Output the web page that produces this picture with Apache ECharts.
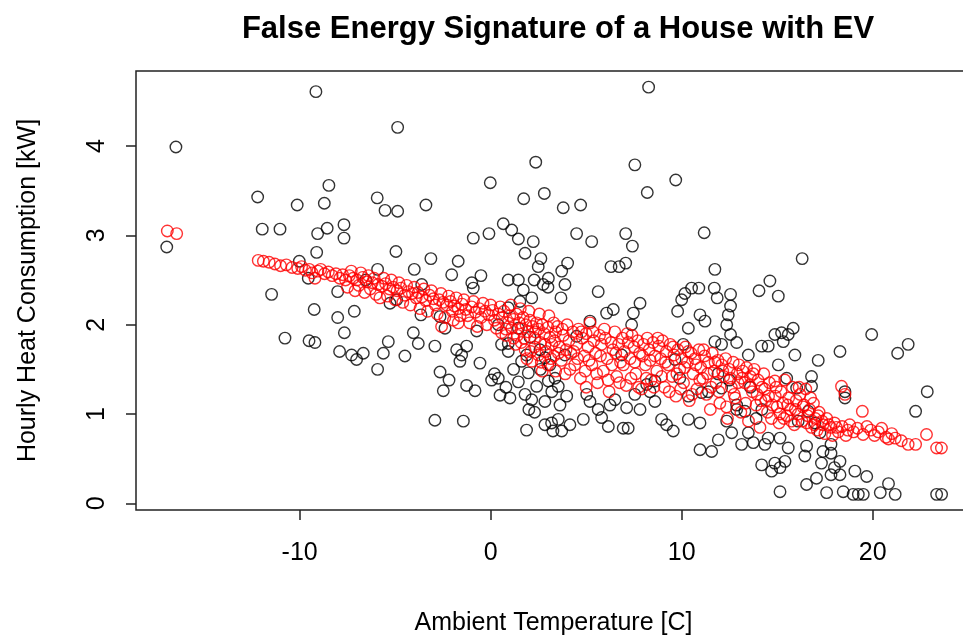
<!DOCTYPE html>
<html>
<head>
<meta charset="utf-8">
<script src="https://cdn.jsdelivr.net/npm/echarts@6/dist/echarts.min.js"></script>
<style>
  html, body { margin: 0; padding: 0; background: #fff; overflow: hidden; }
  #chart { width: 980px; height: 636px; }
</style>
</head>
<body>
<div id="chart"></div>
<script>
// tick positions
const xTicks = [-10, 0, 10, 20];
const yTicks = [0, 1, 2, 3, 4];

// observed hourly consumption (black) [temperature, kW]
const observed = [
  [-16.48, 3.99], [-9.15, 4.61], [-12.2, 3.43], [-10.13, 3.34], [-8.71, 3.36], [-8.47, 3.56],
  [-4.87, 4.21], [-0.02, 3.59], [2.36, 3.82], [2.81, 3.47], [1.73, 3.41], [-5.94, 3.42],
  [-5.53, 3.28], [-4.87, 3.27], [-3.39, 3.34], [8.27, 4.66], [7.55, 3.79], [9.69, 3.62],
  [8.2, 3.48], [3.8, 3.31], [4.71, 3.34],
  [-16.96, 2.87], [-11.96, 3.07], [-11.03, 3.07], [-9.06, 3.02], [-8.56, 3.08], [-7.68, 3.12],
  [-7.68, 2.97], [-9.11, 2.81], [-10.02, 2.71], [-9.55, 2.52], [-11.47, 2.34], [-9.24, 2.17],
  [-8.01, 2.08], [-8.01, 2.37], [-10.77, 1.85], [-9.51, 1.82], [-9.2, 1.80], [-7.91, 1.70], [-7.66, 1.91],
  [0.66, 3.13], [1.10, 3.06], [1.45, 2.96], [2.23, 2.93], [1.80, 2.80], [2.63, 2.74], [2.49, 2.65],
  [3.02, 2.52], [2.75, 2.45], [3.0, 2.42], [2.28, 2.50], [1.45, 2.50], [0.92, 2.50], [1.71, 2.39],
  [1.53, 2.26], [2.15, 2.30], [-0.91, 2.97], [-0.09, 3.02], [-4.96, 2.82], [-3.13, 2.74],
  [-1.70, 2.71], [-5.92, 2.62], [-4.0, 2.62], [-2.04, 2.56], [-0.51, 2.55], [-0.99, 2.47],
  [-0.91, 2.41], [-6.54, 2.50], [-3.61, 2.45], [-5.27, 2.24], [-4.92, 2.28], [-7.14, 2.15],
  [-3.65, 2.11], [-2.65, 2.09], [-2.39, 1.96], [-0.73, 1.93], [-4.05, 1.91], [-3.79, 1.79],
  [-5.36, 1.81], [-2.92, 1.76], [-4.49, 1.65], [-5.62, 1.68], [-6.67, 1.68], [-7.28, 1.66],
  [-7.02, 1.61], [-1.78, 1.72], [-1.52, 1.66], [-1.26, 1.76], [-1.61, 1.59], [-0.56, 1.57],
  [0.92, 1.70], [0.92, 1.79], [0.40, 2.0], [2.06, 1.86], [1.88, 1.66], [2.84, 1.63],
  [0.57, 1.78], [1.62, 1.59], [2.58, 1.72], [3.1, 1.55], [0.92, 2.19], [1.45, 1.96],
  [4.50, 3.02], [5.29, 2.93], [7.07, 3.02], [7.42, 2.88], [11.18, 3.03], [4.03, 2.69],
  [3.72, 2.60], [3.89, 2.45], [3.68, 2.30], [5.63, 2.37], [6.30, 2.65], [6.73, 2.65],
  [7.07, 2.69], [11.74, 2.62], [10.17, 2.35], [10.52, 2.41], [10.9, 2.41], [11.71, 2.41],
  [10.0, 2.28], [11.86, 2.30], [12.56, 2.34], [14.05, 2.38], [9.79, 2.15], [12.56, 2.21],
  [12.44, 2.11], [7.82, 2.24], [7.47, 2.13], [6.07, 2.13], [6.42, 2.17], [10.96, 2.11],
  [11.22, 2.04], [10.35, 1.96], [12.36, 2.0], [12.56, 1.89], [7.38, 2.0], [5.2, 2.04],
  [11.74, 1.81], [12.09, 1.78], [12.88, 1.80], [10.08, 1.78], [13.49, 1.66], [14.19, 1.76],
  [4.50, 1.87], [6.86, 1.66], [9.65, 1.61], [3.89, 1.66],
  [16.31, 2.74], [14.62, 2.49], [15.06, 2.32], [19.95, 1.89], [21.86, 1.78], [21.31, 1.68],
  [18.29, 1.70], [17.15, 1.60], [15.93, 1.66], [15.06, 1.55], [15.23, 1.91], [15.84, 1.96],
  [15.58, 1.89], [14.88, 1.89], [14.53, 1.76], [15.32, 1.81],
  [-5.92, 1.50], [-2.65, 1.47], [-2.18, 1.38], [-2.48, 1.26], [-1.26, 1.32], [-0.82, 1.26],
  [-2.92, 0.93], [-1.43, 0.92], [0.05, 1.38], [0.40, 1.40], [0.49, 1.21], [1.01, 1.18],
  [1.45, 1.36], [1.97, 1.46], [2.41, 1.31], [1.80, 1.22], [2.15, 1.16], [2.84, 1.14],
  [2.0, 1.05], [1.88, 0.82], [2.84, 0.88], [3.19, 0.90], [3.26, 0.81], [3.02, 1.37],
  [3.37, 1.40], [3.54, 1.31], [3.98, 1.20], [3.63, 1.10], [3.54, 0.94], [3.72, 0.81],
  [4.15, 0.88], [4.85, 0.94], [5.03, 1.22], [5.2, 1.14], [5.63, 1.05], [5.81, 0.96],
  [6.25, 1.10], [6.16, 0.86], [6.51, 1.16], [6.94, 0.84], [7.2, 0.84], [7.12, 1.07],
  [7.82, 1.05], [7.55, 1.22], [8.34, 1.25], [8.6, 1.14], [8.95, 0.94], [9.21, 0.88],
  [9.56, 0.81], [8.17, 1.33], [8.6, 1.37], [10.35, 0.94], [10.96, 0.90], [10.96, 0.60],
  [11.57, 0.58], [11.92, 0.71], [12.36, 0.92], [12.62, 0.79], [12.88, 1.05], [13.31, 1.03],
  [13.14, 0.66], [13.49, 0.79], [13.75, 0.68], [14.19, 0.43], [14.36, 0.66], [10.35, 1.20],
  [11.05, 1.24], [11.4, 1.25], [12.09, 1.29], [12.88, 1.10],
  [15.15, 0.13], [16.54, 0.21], [17.59, 0.12], [18.46, 0.13], [18.98, 0.10], [19.25, 0.10],
  [19.51, 0.10], [20.4, 0.12], [20.83, 0.22], [21.18, 0.10], [23.35, 0.10], [23.61, 0.10],
  [22.86, 1.25], [22.25, 1.03], [18.55, 1.25], [18.55, 1.18], [16.8, 1.42], [16.8, 1.31],
  [15.5, 1.40], [17.82, 0.56], [18.0, 0.40], [17.82, 0.32], [18.29, 0.32], [19.07, 0.36],
  [19.69, 0.30], [17.4, 0.58], [17.32, 0.45], [17.06, 0.28], [16.54, 0.64], [16.45, 0.53],
  [15.15, 0.40], [14.88, 0.45], [15.41, 0.47], [14.71, 0.36], [15.58, 0.62], [15.15, 0.73],
  [14.53, 0.73], [16.98, 0.90], [17.24, 0.79], [18.29, 0.47], [17.82, 0.66], [16.1, 0.92],
  [16.63, 1.03], [16.02, 1.29],
  [0.2, 1.45], [0.8, 1.30], [1.2, 1.50], [2.6, 1.50], [3.2, 1.25], [2.3, 1.02],
  [9.9, 1.40], [11.9, 1.45], [12.5, 1.38], [13.6, 1.30], [14.2, 1.05], [13.9, 0.95]
];

// fitted signature (red) [temperature, kW]
const fitted = [
  [-16.93, 3.05], [-16.44, 3.02],
  [-12.17, 2.72], [-11.9, 2.71], [-11.6, 2.70], [-11.3, 2.68], [-11.0, 2.66], [-10.7, 2.67],
  [-10.4, 2.64], [-10.1, 2.63], [-9.9, 2.65], [-9.7, 2.61], [-9.5, 2.62], [-9.35, 2.58],
  [-9.2, 2.52], [-9.05, 2.60], [-8.9, 2.62], [-8.7, 2.57], [-8.5, 2.59], [-8.3, 2.55],
  [-8.1, 2.57], [-7.9, 2.52], [-7.75, 2.56], [-7.6, 2.50],
  [-7.4, 2.55], [-7.2, 2.52], [-7.0, 2.50], [-6.9, 2.44], [-6.7, 2.53], [-6.5, 2.48],
  [-6.3, 2.40], [-6.2, 2.47], [-6.0, 2.34], [-5.9, 2.45], [-5.7, 2.43], [-5.5, 2.46],
  [-5.3, 2.40], [-5.1, 2.42], [-4.9, 2.38], [-4.7, 2.41], [-4.5, 2.33], [-4.3, 2.37],
  [-4.1, 2.35], [-3.9, 2.30], [-3.8, 2.36], [-3.6, 2.31], [-3.4, 2.27], [-3.2, 2.33],
  [-3.0, 2.29], [-2.9, 2.22], [-2.7, 2.28], [-2.5, 2.25], [-2.57, 1.98], [-2.3, 2.22],
  [-2.1, 2.26], [-2.0, 2.15], [-1.9, 2.21], [-1.7, 2.18], [-1.7, 2.02], [-1.5, 2.23],
  [-1.3, 2.17], [-1.2, 2.10], [-1.0, 2.20], [-0.8, 2.14], [-0.6, 2.18], [-0.5, 2.08],
  [-0.3, 2.15], [-0.1, 2.11], [0.1, 2.16], [0.2, 2.05], [0.4, 2.12], [0.57, 1.91],
  [0.6, 2.08], [0.7, 2.15], [0.9, 2.02], [1.0, 2.10], [1.1, 1.96], [1.2, 2.06],
  [1.35, 2.12], [1.4, 1.88], [1.5, 2.02], [1.6, 1.95], [1.7, 2.08], [1.8, 1.72],
  [1.85, 2.00], [1.95, 1.92], [2.05, 2.05], [2.15, 1.59], [2.2, 1.98], [2.3, 1.85],
  [2.4, 2.02], [2.5, 1.95], [2.6, 1.80], [2.7, 2.00], [2.8, 1.90], [2.9, 1.70],
  [3.0, 1.97], [3.1, 1.86], [3.2, 1.78], [3.3, 2.02], [3.4, 1.92],
  [1.9, 1.62], [2.5, 1.66], [3.0, 1.55], [2.7, 1.48], [3.3, 1.65], [2.3, 1.75],
  [1.6, 1.80], [1.2, 1.85], [0.8, 1.95], [3.4, 1.48],
  [-7.5, 2.42], [-7.3, 2.60], [-7.1, 2.38], [-6.8, 2.58], [-6.6, 2.36], [-6.4, 2.55],
  [-6.1, 2.52], [-5.8, 2.30], [-5.6, 2.52], [-5.4, 2.32], [-5.2, 2.50], [-5.0, 2.28],
  [-4.8, 2.47], [-4.6, 2.25], [-4.4, 2.44], [-4.2, 2.22], [-4.0, 2.42], [-3.7, 2.18],
  [-3.5, 2.40], [-3.3, 2.15], [-3.1, 2.38], [-2.8, 2.12], [-2.6, 2.35], [-2.4, 2.08],
  [-2.2, 2.32], [-1.95, 2.05], [-1.8, 2.30], [-1.6, 2.10], [-1.4, 2.28], [-1.1, 2.02],
  [-0.9, 2.26], [-0.7, 1.98], [-0.4, 2.24], [-0.2, 2.00], [0.0, 2.22], [0.3, 1.96],
  [0.5, 2.20], [0.8, 1.88], [1.05, 2.22], [1.3, 1.78], [1.55, 2.18], [1.75, 1.85],
  [2.0, 2.15], [2.1, 1.70], [2.35, 1.92], [2.55, 2.12], [2.65, 1.58], [2.85, 1.78],
  [3.05, 2.10], [3.15, 1.62], [3.35, 1.82],
  [3.5, 1.98], [3.6, 1.75], [3.7, 1.60], [3.8, 1.88], [3.9, 1.45], [4.0, 2.00],
  [4.1, 1.82], [4.2, 1.68], [4.3, 1.92], [4.4, 1.55], [4.5, 1.78], [4.6, 1.95],
  [4.7, 1.40], [4.8, 1.85], [4.9, 1.65], [5.0, 1.90], [5.0, 1.30],
  [5.1, 1.75], [5.2, 2.02], [5.3, 1.55], [5.4, 1.82], [5.5, 1.68], [5.6, 1.35],
  [5.7, 1.88], [5.8, 1.78], [5.9, 1.48], [6.0, 1.85], [6.1, 1.62], [6.2, 1.25],
  [6.3, 1.80], [6.4, 1.72], [6.5, 1.92], [6.6, 1.42], [6.7, 1.78], [6.8, 1.58],
  [6.9, 1.85], [7.0, 1.70], [7.1, 1.32],
  [7.2, 1.80], [7.3, 1.62], [7.4, 1.88], [7.5, 1.75], [7.6, 1.45], [7.7, 1.82],
  [7.8, 1.68], [7.9, 1.28], [8.0, 1.78], [8.1, 1.55], [8.2, 1.85], [8.3, 1.72],
  [8.4, 1.38], [8.5, 1.80], [8.6, 1.65], [8.7, 1.48], [8.8, 1.76], [8.9, 1.62],
  [9.0, 1.82], [9.1, 1.30],
  [9.2, 1.70], [9.3, 1.55], [9.4, 1.78], [9.5, 1.42], [9.6, 1.66], [9.7, 1.20],
  [9.8, 1.72], [9.9, 1.50], [10.0, 1.62], [10.1, 1.35], [10.2, 1.75], [10.3, 1.58],
  [10.4, 1.15], [10.5, 1.68], [10.6, 1.45], [10.7, 1.62], [10.8, 1.28], [10.9, 1.72],
  [11.0, 1.52], [11.1, 1.40],
  [11.2, 1.65], [11.3, 1.22], [11.4, 1.58], [11.5, 1.05], [11.6, 1.68], [11.7, 1.48],
  [11.8, 1.35], [11.9, 1.60], [12.0, 1.12], [12.1, 1.55], [12.2, 1.42], [12.3, 1.62],
  [12.4, 0.95], [12.5, 1.50], [12.6, 1.30], [12.7, 1.58], [12.8, 1.18], [12.9, 1.45],
  [13.0, 1.55], [13.1, 1.02],
  [13.2, 1.48], [13.3, 1.35], [13.4, 1.52], [13.5, 0.92], [13.6, 1.42], [13.7, 1.25],
  [13.8, 1.50], [13.9, 1.10], [14.0, 1.38], [14.1, 0.85], [14.2, 1.30], [14.3, 1.45],
  [14.4, 1.15], [14.5, 1.02], [14.6, 1.35], [14.7, 0.95], [14.88, 1.37], [14.9, 1.20],
  [15.0, 1.08], [15.1, 0.90],
  [15.2, 1.25], [15.3, 1.12], [15.4, 1.38], [15.5, 0.98], [15.6, 1.18], [15.7, 1.05],
  [15.8, 1.30], [15.9, 0.88], [16.0, 1.15], [16.1, 1.00], [16.2, 1.22], [16.3, 0.92],
  [16.4, 1.10], [16.5, 1.28], [16.6, 0.98], [16.7, 1.05], [16.8, 0.85], [16.9, 1.12],
  [17.0, 0.95], [17.1, 0.82], [17.2, 1.02], [17.4, 0.88], [17.5, 0.78], [17.6, 0.95],
  [17.8, 0.85], [17.9, 0.76],
  [3.55, 1.68], [3.75, 1.95], [3.95, 1.72], [4.15, 1.50], [4.35, 1.70], [4.55, 1.62],
  [4.75, 1.92], [4.95, 1.48], [5.15, 1.60], [5.35, 1.92], [5.55, 1.45], [5.75, 1.65],
  [5.95, 1.95], [6.15, 1.38], [6.35, 1.55], [6.55, 1.68], [6.75, 1.35], [6.95, 1.55],
  [7.15, 1.90], [7.35, 1.40], [7.55, 1.58], [7.75, 1.30], [7.95, 1.65], [8.15, 1.40],
  [8.35, 1.60], [8.55, 1.30], [8.75, 1.85], [8.95, 1.42], [9.15, 1.58], [9.35, 1.25],
  [9.55, 1.75], [9.75, 1.45], [9.95, 1.28], [10.15, 1.52], [10.35, 1.70], [10.55, 1.22],
  [10.75, 1.55], [10.95, 1.38], [11.15, 1.72], [11.35, 1.45], [11.55, 1.30], [11.75, 1.58],
  [11.95, 1.25], [12.15, 1.48], [12.35, 1.08], [12.55, 1.40], [12.75, 1.22], [12.95, 1.35],
  [13.15, 1.40], [13.35, 1.12], [13.55, 1.32], [13.75, 1.45], [13.95, 1.22], [14.15, 1.15],
  [14.35, 1.28], [14.55, 1.20], [14.75, 1.10], [14.95, 1.30], [15.15, 1.00], [15.35, 0.95],
  [15.55, 1.10], [15.75, 0.92], [15.95, 1.05], [16.15, 1.30], [16.35, 1.08], [16.55, 0.90],
  [16.75, 1.18], [16.95, 0.88], [17.15, 0.98], [17.35, 0.92], [17.7, 0.88], [18.1, 0.85],
  [18.7, 0.82],
  [18.0, 0.90], [18.2, 0.80], [18.37, 1.31], [18.4, 0.86], [18.55, 1.22], [18.6, 0.76],
  [18.8, 0.88], [19.0, 0.80], [19.2, 0.84], [19.46, 1.03], [19.5, 0.77], [19.7, 0.86],
  [19.9, 0.82], [20.1, 0.76], [20.3, 0.80], [20.47, 0.84], [20.7, 0.74], [20.83, 0.72],
  [21.0, 0.78], [21.18, 0.73], [21.5, 0.70], [21.86, 0.66], [22.25, 0.66], [22.82, 0.77],
  [23.35, 0.62], [23.6, 0.62]
];

const chart = echarts.init(document.getElementById("chart"));

const textFont = "'Liberation Sans', Arial, Helvetica, sans-serif";

const option = {
  animation: false,
  backgroundColor: "#fff",
  title: {
    text: "False Energy Signature of a House with EV",
    left: 553,
    top: 9,
    textAlign: "center",
    textStyle: { fontFamily: textFont, fontSize: 31, fontWeight: "bold", color: "#000" },
  },
  grid: {
    left: 136,
    right: 9,
    top: 71,
    bottom: 126,
    outerBoundsMode: "none",
    show: true,
    borderColor: "#222",
    borderWidth: 1.5,
    backgroundColor: "transparent",
  },
  xAxis: {
    type: "value",
    min: -18.57,
    max: 25.15,
    name: "Ambient Temperature [C]",
    nameLocation: "middle",
    nameGap: 101,
    nameTextStyle: { fontFamily: textFont, fontSize: 25, color: "#000" },
    axisLine: { show: false, onZero: false },
    axisTick: { show: true, length: 10, lineStyle: { color: "#222", width: 1.5 }, customValues: xTicks },
    axisLabel: { fontFamily: textFont, fontSize: 25, color: "#000", margin: 31, customValues: xTicks },
    splitLine: { show: false },
  },
  yAxis: {
    type: "value",
    min: -0.075,
    max: 4.841,
    name: "Hourly Heat Consumption [kW]",
    nameLocation: "middle",
    nameGap: 95,
    nameTextStyle: { fontFamily: textFont, fontSize: 25, color: "#000" },
    axisLine: { show: false, onZero: false },
    axisTick: { show: true, length: 10, lineStyle: { color: "#222", width: 1.5 }, customValues: yTicks },
    axisLabel: { fontFamily: textFont, fontSize: 25, color: "#000", margin: 26, rotate: 90, customValues: yTicks },
    splitLine: { show: false },
  },
  series: [
    {
      name: "observed",
      type: "scatter",
      data: observed,
      symbol: "circle",
      symbolSize: 11.5,
      itemStyle: { color: "transparent", borderColor: "#000", borderWidth: 1.4 },
    },
    {
      name: "fitted",
      type: "scatter",
      data: fitted,
      symbol: "circle",
      symbolSize: 11.5,
      itemStyle: { color: "transparent", borderColor: "#ff0000", borderWidth: 1.4 },
    },
  ],
};

chart.setOption(option);
</script>
</body>
</html>
